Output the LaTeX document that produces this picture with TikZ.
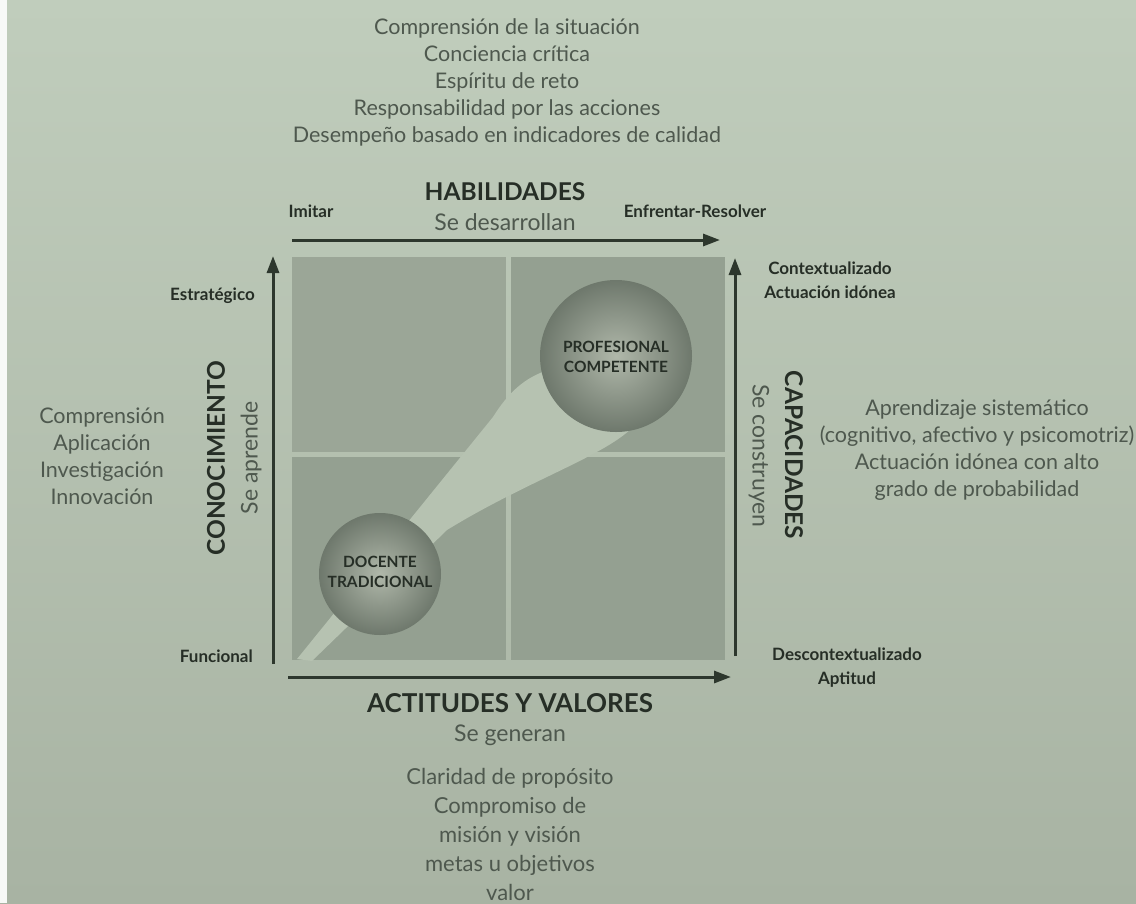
\documentclass[tikz,border=0pt]{standalone}
\usepackage{fontspec}
\setmainfont{Lato}
\usetikzlibrary{arrows.meta}

\definecolor{pagetop}{RGB}{192,205,188}
\definecolor{pagebot}{RGB}{168,179,163}
\definecolor{quad}{RGB}{148,160,145}
\definecolor{quadtl}{RGB}{155,166,151}
\definecolor{beam}{RGB}{182,194,177}
\definecolor{ballin}{RGB}{176,184,170}
\definecolor{ballout}{RGB}{110,120,108}
\definecolor{axis}{RGB}{45,55,45}
\definecolor{softtext}{RGB}{78,88,78}
\definecolor{darktext}{RGB}{38,46,38}

\tikzset{
  body/.style={font=\fontsize{21.5}{27}\selectfont, text=softtext, align=center, inner sep=0pt},
  head/.style={font=\fontsize{24.5}{28}\selectfont\bfseries, text=darktext, inner sep=0pt},
  sub/.style={font=\fontsize{23}{28}\selectfont, text=softtext, inner sep=0pt},
  tick/.style={font=\fontsize{17}{24}\selectfont\bfseries, text=darktext, align=center, inner sep=0pt},
  balltext/.style={font=\fontsize{15.5}{20}\selectfont\bfseries, text=darktext, align=center, inner sep=0pt},
  axisarrow/.style={draw=axis, line width=3pt, -{Triangle[length=17pt,width=12pt]}},
  quadrant/.style={fill=quad, draw=none},
  sphere/.style={circle, inner sep=0pt, inner color=ballin, outer color=ballout}
}

\begin{document}
\begin{tikzpicture}[x=1pt,y=-1pt]
  % page
  \useasboundingbox (0,0) rectangle (1136,903);
  \shade[top color=pagetop, bottom color=pagebot] (0,0) rectangle (1136,903);
  \fill[white!88!pagetop] (0,0) rectangle (7,903);

  % four quadrants with light gaps
  \fill[quadtl] (292,257) rectangle (506,452);
  \fill[quadrant] (511,257) rectangle (725,452);
  \fill[quadrant] (292,457) rectangle (506,660);
  \fill[quadrant] (511,457) rectangle (725,660);

  % light path from the lower corner up to the upper sphere
  \fill[beam] (297,659) -- (493,417)
     .. controls (508,393) and (524,378) .. (548,370)
     -- (616,356) -- (632,428)
     .. controls (602,457) and (525,482) .. (447,530)
     -- (312,661) -- cycle;

  % spheres
  \node[sphere, minimum size=152pt] (prof) at (616,356) {};
  \node[sphere, minimum size=122pt] (doc) at (380,574) {};
  \node[balltext] (proft) at (616,357) {PROFESIONAL\\COMPETENTE};
  \node[balltext] (doct) at (380,572) {DOCENTE\\TRADICIONAL};

  % axes
  \coordinate (tA) at (292,240); \coordinate (tB) at (720,240);
  \coordinate (lA) at (273,664); \coordinate (lB) at (273,256);
  \coordinate (rA) at (735,656); \coordinate (rB) at (735,258);
  \coordinate (bA) at (288,677); \coordinate (bB) at (731,677);
  \draw[axisarrow] (tA) -- (tB);
  \draw[axisarrow] (lA) -- (lB);
  \draw[axisarrow] (rA) -- (rB);
  \draw[axisarrow] (bA) -- (bB);

  % top block
  \node[body] (toplist) at (507,82) {Comprensión de la situación\\Conciencia crítica\\Espíritu de reto\\Responsabilidad por las acciones\\Desempeño basado en indicadores de calidad};
  \node[head] (hab) at (505,192) {HABILIDADES};
  \node[sub] (habs) at (505,222) {Se desarrollan};
  \node[tick] (imitar) at (311,211) {Imitar};
  \node[tick] (enfr) at (695,211) {Enfrentar-Resolver};

  % left side
  \node[tick, anchor=east] (estr) at (255,296) {Estratégico};
  \node[tick, anchor=east] (func) at (253,656) {Funcional};
  \node[head, rotate=90] (con) at (216,458) {CONOCIMIENTO};
  \node[sub, rotate=90] (cons) at (251,458) {Se aprende};
  \node[body] (leftlist) at (102,456) {Comprensión\\Aplicación\\Investigación\\Innovación};

  % right side
  \node[tick] (contx) at (830,280) {Contextualizado\\Actuación idónea};
  \node[tick] (descx) at (847,668) {Descontextualizado\\Aptitud};
  \node[head, rotate=-90] (cap) at (794,455) {CAPACIDADES};
  \node[sub, rotate=-90] (caps) at (759,456) {Se construyen};
  \node[body] (rightlist) at (977,450) {Aprendizaje sistemático\\(cognitivo, afectivo y psicomotriz)\\Actuación idónea con alto\\grado de probabilidad};

  % bottom block
  \node[head, font=\fontsize{26}{30}\selectfont\bfseries] (act) at (510,703) {ACTITUDES Y VALORES};
  \node[sub] (acts) at (510,735) {Se generan};
  \node[body, font=\fontsize{22}{29}\selectfont] (botlist) at (510,834) {Claridad de propósito\\Compromiso de\\misión y visión\\metas u objetivos\\valor};
\end{tikzpicture}
\end{document}
